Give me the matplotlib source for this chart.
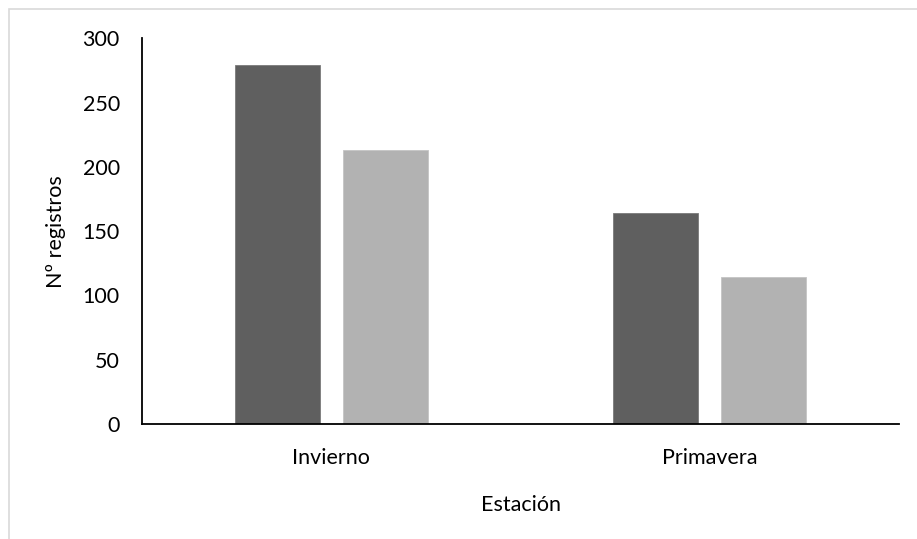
import numpy as np
import matplotlib.pyplot as plt
from matplotlib.patches import Rectangle

plt.rcParams['font.family'] = ['Lato', 'DejaVu Sans']

# records per season, two series
estaciones = ['Invierno', 'Primavera']
serie_a = [279, 164]
serie_b = [213, 114]

fig = plt.figure(figsize=(9.17, 5.39), dpi=100)
ax = fig.add_axes([0.1549, 0.2134, 0.8255, 0.7152])

x = np.arange(len(estaciones))
w = 0.2246
off = 0.1427
ax.bar(x - off, serie_a, width=w, color='#5f5f5f', edgecolor='#7a7a7a', linewidth=0.6)
ax.bar(x + off, serie_b, width=w, color='#b2b2b2', edgecolor='#c4c4c4', linewidth=0.6)

ax.set_xlim(-0.5, 1.5)
ax.set_ylim(0, 300)
ax.set_yticks(range(0, 301, 50))
ax.set_xticks(x)
ax.set_xticklabels(estaciones)

for s in ['top', 'right']:
    ax.spines[s].set_visible(False)
ax.spines['left'].set_linewidth(1.3)
ax.spines['bottom'].set_linewidth(1.3)
ax.tick_params(axis='both', length=0, labelsize=15.5, colors='black')
ax.tick_params(axis='y', pad=16)
ax.tick_params(axis='x', pad=17)

ax.set_xlabel('Estación', fontsize=15.5, labelpad=20)
ax.set_ylabel('Nº registros', fontsize=15.5, labelpad=12)

# light frame around the chart area (runs off the right and bottom edges)
fig.patches.append(Rectangle((8.5 / 917, -0.05), 1.2, 1 - 8.5 / 539 + 0.05,
                             transform=fig.transFigure, fill=False,
                             edgecolor='#d9d9d9', linewidth=1.2))

fig.savefig('out.png', dpi=100)
